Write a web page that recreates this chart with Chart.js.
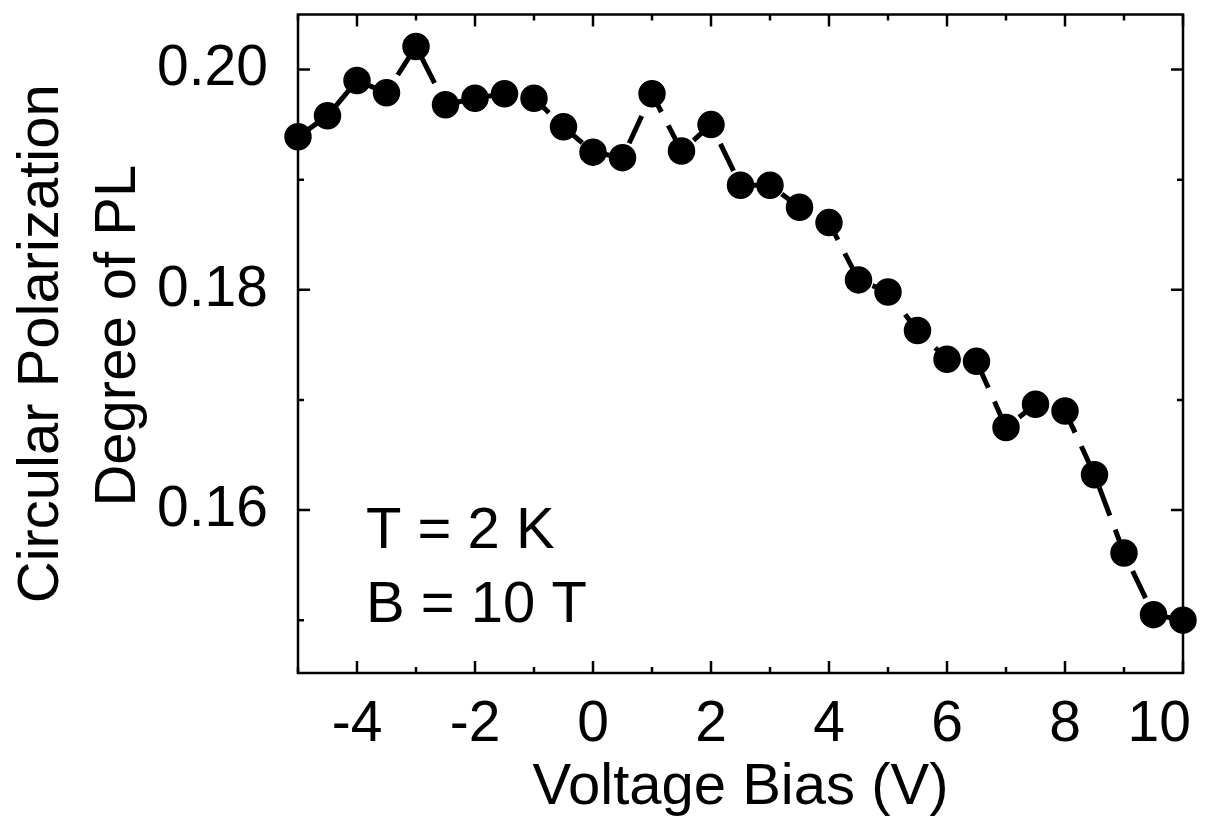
<!DOCTYPE html>
<html lang="en">
<head>
    <meta charset="UTF-8">
    <title>Circular Polarization Degree of PL vs Voltage Bias</title>
    <script src="https://cdn.jsdelivr.net/npm/chart.js"></script>
    <style>
        body {
            margin: 0;
            background: #ffffff;
        }
        .wrap {
            width: 1209px;
            height: 819px;
        }
    </style>
</head>
<body>
    <div class="wrap">
        <canvas id="plChart"></canvas>
    </div>

    <script>
        // data
        const biasV = [-5, -4.5, -4, -3.5, -3, -2.5, -2, -1.5, -1, -0.5, 0, 0.5, 1, 1.5, 2, 2.5, 3, 3.5, 4, 4.5, 5, 5.5, 6, 6.5, 7, 7.5, 8, 8.5, 9, 9.5, 10];
        const polDegree = [0.1939, 0.1958, 0.1990, 0.1979, 0.2021, 0.1968, 0.1974, 0.1978, 0.1974, 0.1948, 0.1925, 0.1920, 0.1978, 0.1926, 0.1950, 0.1895, 0.1895, 0.1875, 0.1861, 0.1809, 0.1798, 0.1763, 0.1737, 0.1735, 0.1675, 0.1696, 0.1690, 0.1632, 0.1561, 0.1505, 0.1500];

        const xMajor = [-4, -2, 0, 2, 4, 6, 8, 10];
        const xMinor = [-5, -3, -1, 1, 3, 5, 7, 9];
        const yMajor = [0.16, 0.18, 0.20];
        const yMinor = [0.15, 0.17, 0.19];
        const notes = ['T = 2 K', 'B = 10 T'];

        const FONT = "'Liberation Sans', Arial, sans-serif";

        // frame, inward ticks on all four sides, and the T/B note
        const framePlugin = {
            id: 'frame',
            afterDatasetsDraw(chart) {
                const { ctx, chartArea: a, scales: { x, y } } = chart;
                ctx.save();
                ctx.strokeStyle = '#000';
                ctx.lineWidth = 2.5;
                ctx.strokeRect(a.left, a.top, a.right - a.left, a.bottom - a.top);

                const tickX = (vals, len) => vals.forEach(v => {
                    const px = x.getPixelForValue(v);
                    ctx.beginPath();
                    ctx.moveTo(px, a.bottom); ctx.lineTo(px, a.bottom - len);
                    ctx.moveTo(px, a.top); ctx.lineTo(px, a.top + len);
                    ctx.stroke();
                });
                const tickY = (vals, len) => vals.forEach(v => {
                    const py = y.getPixelForValue(v);
                    ctx.beginPath();
                    ctx.moveTo(a.left, py); ctx.lineTo(a.left + len, py);
                    ctx.moveTo(a.right, py); ctx.lineTo(a.right - len, py);
                    ctx.stroke();
                });
                tickX(xMajor, 12); tickX(xMinor, 6);
                tickY(yMajor, 12); tickY(yMinor, 6);

                ctx.fillStyle = '#000';
                ctx.font = '58px ' + FONT;
                ctx.textAlign = 'left';
                ctx.textBaseline = 'alphabetic';
                ctx.fillText(notes[0], a.left + 68, a.top + 533);
                ctx.fillText(notes[1], a.left + 68, a.top + 607);
                ctx.restore();
            }
        };

        new Chart(document.getElementById('plChart'), {
            type: 'line',
            data: {
                labels: biasV,
                datasets: [{
                    data: biasV.map((v, i) => ({ x: v, y: polDegree[i] })),
                    borderColor: '#000',
                    borderWidth: 5,
                    borderDash: [30, 15],
                    backgroundColor: '#000',
                    pointBackgroundColor: '#000',
                    pointBorderColor: '#000',
                    pointRadius: 13,
                    pointBorderWidth: 1.5,
                    tension: 0,
                    clip: false
                }]
            },
            options: {
                responsive: true,
                maintainAspectRatio: false,
                animation: false,
                layout: { padding: { top: 10, right: 26, left: 0, bottom: 0 } },
                plugins: {
                    legend: { display: false },
                    tooltip: { enabled: false }
                },
                scales: {
                    x: {
                        type: 'linear',
                        min: -5,
                        max: 10,
                        grid: { display: false },
                        border: { display: false },
                        afterBuildTicks: s => { s.ticks = xMajor.map(v => ({ value: v })); },
                        afterFit: s => {
                            s.height = 146;
                            s.paddingLeft = 0;
                            s.paddingRight = 0;
                        },
                        ticks: {
                            color: '#000',
                            padding: 10,
                            maxRotation: 0,
                            // last label sits a little left of its tick, inside the page
                            callback: v => v === 10 ? '10\u00A0\u00A0\u00A0' : String(v),
                            font: { family: FONT, size: 57 }
                        },
                        title: {
                            display: true,
                            text: 'Voltage Bias (V)',
                            color: '#000',
                            padding: { top: 0, bottom: 2 },
                            font: { family: FONT, size: 58, lineHeight: 1 }
                        }
                    },
                    y: {
                        type: 'linear',
                        min: 0.1452,
                        max: 0.2050,
                        grid: { display: false },
                        border: { display: false },
                        afterBuildTicks: s => { s.ticks = yMajor.map(v => ({ value: v })); },
                        afterFit: s => {
                            s.width = 298;
                            s.paddingTop = 0;
                            s.paddingBottom = 0;
                        },
                        ticks: {
                            color: '#000',
                            padding: 22,
                            callback: v => v.toFixed(2),
                            font: { family: FONT, size: 57 }
                        },
                        title: {
                            display: true,
                            text: ['Circular Polarization', '\u00A0Degree of PL'],
                            color: '#000',
                            padding: { top: 3, bottom: 0 },
                            font: { family: FONT, size: 58, lineHeight: 1.33 }
                        }
                    }
                }
            },
            plugins: [framePlugin]
        });
    </script>
</body>
</html>
